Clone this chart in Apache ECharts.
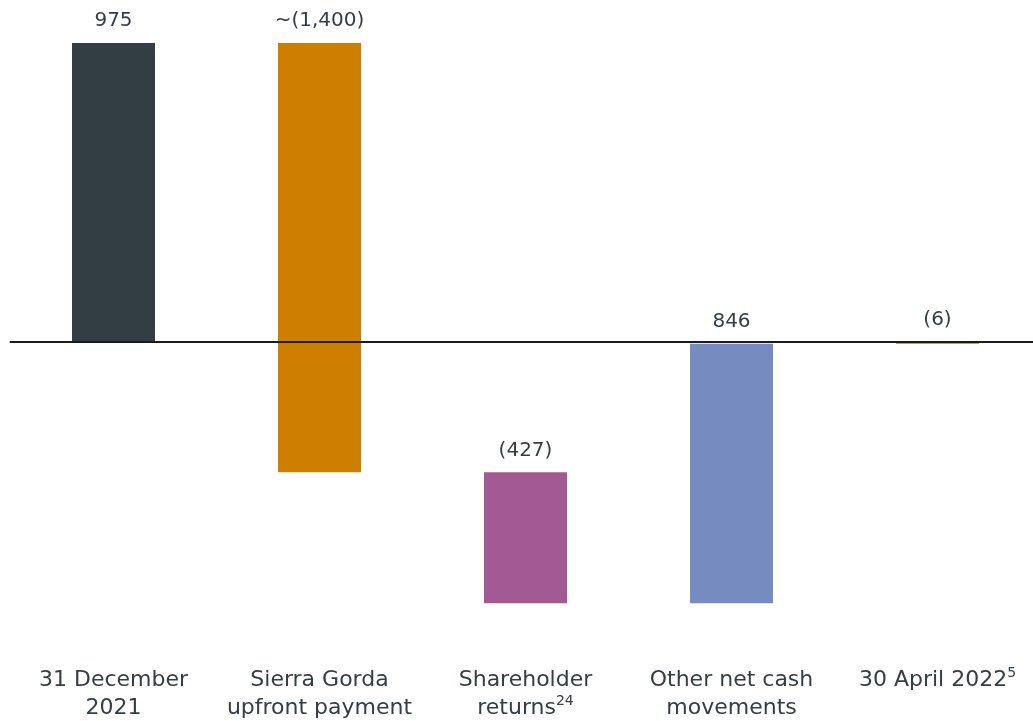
<!DOCTYPE html>
<html>
<head>
<meta charset="utf-8">
<script src="https://cdn.jsdelivr.net/npm/echarts@6/dist/echarts.min.js"></script>
<style>
  html, body { margin: 0; padding: 0; background: #fff; }
  #chart { width: 1033px; height: 721px; }
</style>
</head>
<body>
<div id="chart"></div>
<script>
// categories (superscripts marked with {sup|..})
const categories = [
    "31 December\n2021",
    "Sierra Gorda\nupfront payment",
    "Shareholder\nreturns{sup|24}",
    "Other net cash\nmovements",
    "30 April 2022{sup|5}",
];
// first and last are totals, the rest are movements
const values = [975, -1400, -427, 846, -6];
const isTotal = [true, false, false, false, true];
const valueLabels = ["975", "~(1,400)", "(427)", "846", "(6)"];
const barColors = ["#323d44", "#cf7f00", "#a35a94", "#768cc1", "#8e8e2c"];

const textColor = "#343e45";
const font = "DejaVu Sans";

// running low / high for each bar
const waterfall = (function () {
    var rows = [];
    var run = 0;
    for (var i = 0; i < values.length; i++) {
        var lo, hi;
        if (isTotal[i]) {
            run = values[i];
            lo = Math.min(0, run);
            hi = Math.max(0, run);
        } else {
            var next = run + values[i];
            lo = Math.min(run, next);
            hi = Math.max(run, next);
            run = next;
        }
        rows.push([i, lo, hi]);
    }
    return rows;
})();

const chart = echarts.init(document.getElementById("chart"));

chart.setOption({
    animation: false,
    grid: {
        left: 10.5,
        top: 35.3,
        width: 1030,
        height: 613.4,
        outerBoundsMode: "none",
        containLabel: false,
    },
    xAxis: [
        {
            type: "category",
            data: categories,
            z: 10,
            axisLine: {
                onZero: true,
                lineStyle: { color: "#1b1b1b", width: 2 },
            },
            axisTick: { show: false },
            axisLabel: { show: false },
        },
        {
            type: "category",
            data: categories,
            position: "bottom",
            axisLine: { show: false, onZero: false },
            axisTick: { show: false },
            axisLabel: {
                interval: 0,
                margin: 18,
                color: textColor,
                fontFamily: font,
                fontSize: 22,
                lineHeight: 28,
                rich: {
                    sup: {
                        fontSize: 14,
                        fontFamily: font,
                        color: textColor,
                        verticalAlign: "top",
                        lineHeight: 20,
                    },
                },
            },
        },
    ],
    yAxis: {
        type: "value",
        min: -1000,
        max: 1000,
        show: false,
        splitLine: { show: false },
    },
    series: [
        {
            type: "custom",
            xAxisIndex: 0,
            data: waterfall,
            renderItem: function (params, api) {
                var idx = api.value(0);
                var top = api.coord([idx, api.value(2)]);
                var bottom = api.coord([idx, api.value(1)]);
                var w = 83;
                return {
                    type: "group",
                    children: [
                        {
                            type: "rect",
                            shape: {
                                x: top[0] - w / 2,
                                y: top[1],
                                width: w,
                                height: Math.max(bottom[1] - top[1], 1),
                            },
                            style: { fill: barColors[idx] },
                        },
                        {
                            type: "text",
                            style: {
                                text: valueLabels[idx],
                                x: top[0],
                                y: top[1] - 12,
                                align: "center",
                                verticalAlign: "bottom",
                                fill: textColor,
                                fontFamily: font,
                                fontSize: 20,
                            },
                        },
                    ],
                };
            },
        },
    ],
});
</script>
</body>
</html>
